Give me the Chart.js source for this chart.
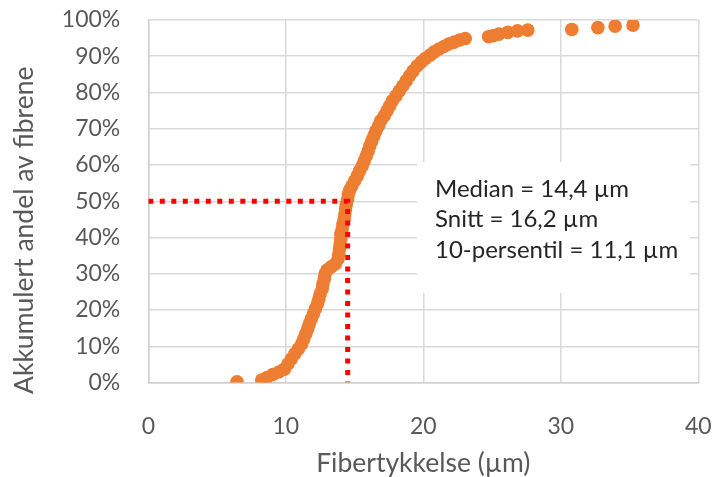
<!DOCTYPE html>
<html>
<head>
<meta charset="utf-8">
<script src="https://cdn.jsdelivr.net/npm/chart.js@4/dist/chart.umd.min.js"></script>
<style>
  html, body { margin: 0; padding: 0; background: #fff; }
</style>
</head>
<body>
<canvas id="fiberChart" width="717" height="477"></canvas>
<script>
// Fibertykkelse (µm) and cumulative share of fibres (%)
const thickness = [
  6.45, 8.25, 8.65, 9.05, 9.5, 9.9, 10.15, 10.4, 10.65, 10.9, 11.15, 11.3, 11.45, 11.6, 11.7,
  11.85, 12.0, 12.15, 12.3, 12.4, 12.5, 12.65, 12.7, 12.8, 12.85, 13.0, 13.3, 13.6, 13.8, 13.85,
  13.9, 13.95, 14.0, 14.0, 14.1, 14.15, 14.25, 14.3, 14.35, 14.4, 14.5, 14.55, 14.65, 14.8,
  15.0, 15.2, 15.35, 15.55, 15.7, 15.85, 16.0, 16.1, 16.25, 16.4, 16.55, 16.75, 16.9, 17.15,
  17.35, 17.55, 17.75, 18.0, 18.25, 18.5, 18.75, 19.0, 19.25, 19.55, 19.85, 20.15, 20.5, 20.8,
  21.15, 21.5, 21.85, 22.25, 22.65, 23.05,
  24.75, 25.1, 25.5, 26.15, 26.85, 27.6, 30.8, 32.7, 33.95, 35.25
];
const cumulativeShare = [
  0.2, 0.7, 1.4, 2.2, 2.9, 3.7, 5.1, 6.5, 7.9, 9.2, 10.6, 12.0, 13.4, 14.8, 16.1,
  17.5, 18.9, 20.3, 21.7, 23.0, 24.4, 25.8, 27.2, 28.6, 29.9, 31.0, 31.9, 32.7, 34.1, 35.4,
  36.8, 38.2, 39.6, 41.0, 42.3, 43.7, 45.1, 46.5, 47.9, 49.2, 50.6, 52.0, 53.1, 54.2,
  55.6, 57.0, 58.3, 59.7, 61.1, 62.5, 63.9, 65.2, 66.6, 68.0, 69.4, 70.8, 72.2, 73.5,
  74.9, 76.3, 77.7, 79.0, 80.4, 81.8, 83.2, 84.6, 85.9, 87.3, 88.4, 89.4, 90.3, 91.2,
  92.0, 92.7, 93.4, 93.9, 94.5, 94.9,
  95.4, 95.7, 96.1, 96.6, 97.0, 97.2, 97.4, 97.9, 98.3, 98.6
];

// red dotted median guide
const medianGuideX = [0, 14.5, 14.5];
const medianGuideY = [50, 50, 0];

const xTicks = [0, 10, 20, 30, 40];
const yTicks = [0, 10, 20, 30, 40, 50, 60, 70, 80, 90, 100];

const statLines = ["Median = 14,4 µm", "Snitt = 16,2 µm", "10-persentil = 11,1 µm"];
const xTitle = "Fibertykkelse (µm)";
const yTitle = "Akkumulert andel av fibrene";

const FONT = 'Lato, "Open Sans", sans-serif';
const GREY = '#595959';

const decorations = {
  id: 'decorations',
  beforeDatasetsDraw(chart) {
    // white label box hides the grid behind the stats text
    const { ctx, scales: { x, y } } = chart;
    const left = x.getPixelForValue(19.55), right = x.getPixelForValue(39.4);
    const top = y.getPixelForValue(60.8), bottom = y.getPixelForValue(24.7);
    ctx.save();
    ctx.fillStyle = '#fff';
    ctx.fillRect(left, top, right - left, bottom - top);
    ctx.restore();
  },
  afterDraw(chart) {
    const { ctx, chartArea, scales: { x, y } } = chart;
    ctx.save();
    ctx.fillStyle = '#262626';
    ctx.font = '24px ' + FONT;
    ctx.textAlign = 'left';
    ctx.textBaseline = 'alphabetic';
    statLines.forEach((t, i) => {
      ctx.fillText(t, x.getPixelForValue(20.85), y.getPixelForValue(51.3 - i * 8.5));
    });

    ctx.fillStyle = GREY;
    ctx.font = '26.5px ' + FONT;
    ctx.textAlign = 'center';
    ctx.fillText(xTitle, (chartArea.left + chartArea.right) / 2, chartArea.bottom + 89.5);

    ctx.translate(33, (chartArea.top + chartArea.bottom) / 2 + 29);
    ctx.rotate(-Math.PI / 2);
    ctx.fillText(yTitle, 0, 0);
    ctx.restore();
  }
};

new Chart(document.getElementById('fiberChart'), {
  type: 'scatter',
  data: {
    datasets: [
      {
        label: 'Median',
        data: medianGuideX.map((v, i) => ({ x: v, y: medianGuideY[i] })),
        showLine: true,
        borderColor: '#ff0000',
        borderWidth: 5,
        borderDash: [5, 6.5],
        borderCapStyle: 'butt',
        pointRadius: 0,
        fill: false
      },
      {
        label: 'Fibre',
        data: thickness.map((v, i) => ({ x: v, y: cumulativeShare[i] })),
        backgroundColor: '#ED7D31',
        borderWidth: 0,
        pointRadius: 6.8,
        pointHoverRadius: 6.8
      }
    ]
  },
  options: {
    responsive: false,
    animation: false,
    devicePixelRatio: 1,
    layout: { autoPadding: false, padding: { left: 0, right: 18.7, top: 20, bottom: 0 } },
    plugins: {
      legend: { display: false },
      tooltip: { enabled: false }
    },
    scales: {
      x: {
        type: 'linear',
        min: 0,
        max: 40,
        afterBuildTicks: s => { s.ticks = xTicks.map(v => ({ value: v })); },
        afterFit: s => { s.height = 94.5; s.paddingLeft = 0; s.paddingRight = 0; },
        grid: { color: '#d9d9d9', lineWidth: 1.5, drawTicks: false },
        border: { color: '#d0d0d0', width: 1.5 },
        ticks: { color: GREY, font: { family: FONT, size: 23 }, padding: 30 }
      },
      y: {
        min: 0,
        max: 100,
        afterBuildTicks: s => { s.ticks = yTicks.map(v => ({ value: v })); },
        afterFit: s => { s.width = 148.3; s.paddingTop = 0; s.paddingBottom = 0; },
        grid: { color: '#d9d9d9', lineWidth: 1.5, drawTicks: false },
        border: { color: '#d0d0d0', width: 1.5 },
        ticks: { color: GREY, font: { family: FONT, size: 23 }, padding: 28, callback: v => v + '%' }
      }
    }
  },
  plugins: [decorations]
});
</script>
</body>
</html>
